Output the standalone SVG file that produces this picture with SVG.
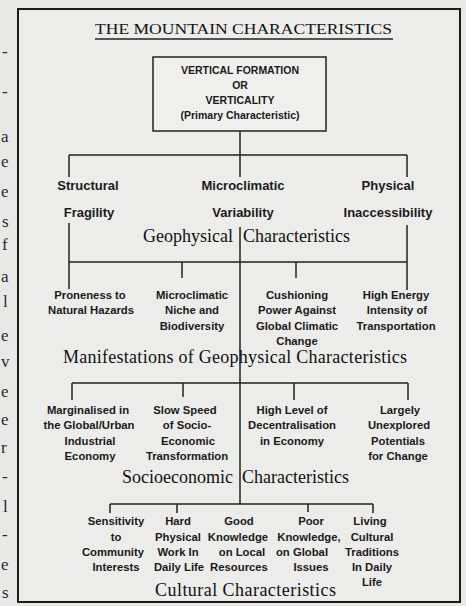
<svg xmlns="http://www.w3.org/2000/svg" width="466" height="606" viewBox="0 0 466 606">
<style>
.bg{fill:#e8e8e6}
.frame{fill:#ececea;stroke:#1c1c1c;stroke-width:2}
.ln{stroke:#222;stroke-width:1.5;fill:none}
.s{font-family:"Liberation Sans",Arial,sans-serif;font-weight:bold;font-size:11.3px;fill:#1a1a1a;text-anchor:middle}
.s1{font-family:"Liberation Sans",Arial,sans-serif;font-weight:bold;font-size:13px;fill:#1a1a1a;text-anchor:middle}
.bx{font-family:"Liberation Sans",Arial,sans-serif;font-weight:bold;font-size:10.5px;fill:#1a1a1a;text-anchor:middle}
.h{font-family:"Liberation Serif","Times New Roman",serif;font-size:18px;fill:#111}
.m{font-family:"Liberation Serif","Times New Roman",serif;font-size:17px;fill:#2a2a2a;text-anchor:start}
</style>
<rect class="bg" x="0" y="0" width="466" height="606"/>
<g id="margin">
<text class="m" x="2" y="57">-</text>
<text class="m" x="2" y="97">-</text>
<text class="m" x="1" y="142">a</text>
<text class="m" x="1" y="167">e</text>
<text class="m" x="1" y="197">e</text>
<text class="m" x="2" y="227">s</text>
<text class="m" x="2" y="250">f</text>
<text class="m" x="1" y="282">a</text>
<text class="m" x="3" y="307">l</text>
<text class="m" x="1" y="341">e</text>
<text class="m" x="1" y="367">v</text>
<text class="m" x="1" y="397">e</text>
<text class="m" x="1" y="425">e</text>
<text class="m" x="1" y="453">r</text>
<text class="m" x="2" y="482">-</text>
<text class="m" x="3" y="512">l</text>
<text class="m" x="2" y="540">-</text>
<text class="m" x="1" y="570">e</text>
<text class="m" x="2" y="598">s</text>
</g>
<rect class="frame" x="18" y="9" width="442" height="593"/>
<g id="title">
<text x="243.5" y="34" font-family="'Liberation Serif','Times New Roman',serif" font-size="15" fill="#111" text-anchor="middle" textLength="297" lengthAdjust="spacingAndGlyphs">THE MOUNTAIN CHARACTERISTICS</text>
<line class="ln" x1="95" y1="39" x2="393" y2="39"/>
</g>
<g id="connectors">
<line class="ln" x1="240" y1="131" x2="240" y2="155"/>
<line class="ln" x1="69" y1="155" x2="407" y2="155"/>
<line class="ln" x1="69" y1="155" x2="69" y2="177"/>
<line class="ln" x1="240" y1="155" x2="240" y2="177"/>
<line class="ln" x1="407" y1="155" x2="407" y2="177"/>
<line class="ln" x1="69" y1="223" x2="69" y2="289"/>
<line class="ln" x1="407" y1="225" x2="407" y2="290"/>
<line class="ln" x1="69" y1="262" x2="407" y2="262"/>
<line class="ln" x1="182" y1="262" x2="182" y2="278"/>
<line class="ln" x1="296" y1="262" x2="296" y2="278"/>
<line class="ln" x1="240" y1="227" x2="240" y2="504"/>
<line class="ln" x1="72" y1="383" x2="408" y2="383"/>
<line class="ln" x1="72" y1="383" x2="72" y2="400"/>
<line class="ln" x1="183" y1="383" x2="183" y2="397"/>
<line class="ln" x1="294" y1="383" x2="294" y2="400"/>
<line class="ln" x1="408" y1="383" x2="408" y2="400"/>
<line class="ln" x1="110" y1="504" x2="373" y2="504"/>
<line class="ln" x1="110" y1="504" x2="110" y2="513"/>
<line class="ln" x1="177" y1="504" x2="177" y2="513"/>
<line class="ln" x1="308" y1="504" x2="308" y2="512"/>
<line class="ln" x1="373" y1="504" x2="373" y2="513"/>
</g>
<g id="primary">
<rect x="153" y="57" width="173" height="74" fill="#efefed" stroke="#222" stroke-width="1.5"/>
<text class="bx" x="240" y="74">VERTICAL FORMATION</text>
<text class="bx" x="240" y="89">OR</text>
<text class="bx" x="240" y="104">VERTICALITY</text>
<text class="bx" x="240" y="119">(Primary Characteristic)</text>
</g>
<g id="structural"><text class="s1" x="88" y="190">Structural</text><text class="s1" x="89" y="217">Fragility</text></g>
<g id="microclimatic"><text class="s1" x="243" y="190">Microclimatic</text><text class="s1" x="243" y="217">Variability</text></g>
<g id="physical"><text class="s1" x="388" y="190">Physical</text><text class="s1" x="388" y="217">Inaccessibility</text></g>
<g id="geo-label"><text class="h" x="233" y="242" text-anchor="end">Geophysical</text><text class="h" x="243" y="242">Characteristics</text></g>
<g id="proneness"><text class="s" x="90" y="299">Proneness to</text><text class="s" x="91" y="314">Natural  Hazards</text></g>
<g id="niche"><text class="s" x="192" y="299">Microclimatic</text><text class="s" x="192" y="314">Niche and</text><text class="s" x="192" y="330">Biodiversity</text></g>
<g id="cushioning"><text class="s" x="297" y="299">Cushioning</text><text class="s" x="297" y="314">Power Against</text><text class="s" x="297" y="330">Global Climatic</text><text class="s" x="297" y="345">Change</text></g>
<g id="energy"><text class="s" x="396" y="299">High Energy</text><text class="s" x="397" y="314">Intensity of</text><text class="s" x="396" y="330">Transportation</text></g>
<g id="manif-label"><text class="h" x="63" y="363" textLength="344" lengthAdjust="spacing">Manifestations  of Geophysical Characteristics</text></g>
<g id="marginalised"><text class="s" x="88" y="414">Marginalised in</text><text class="s" x="89" y="429">the Global/Urban</text><text class="s" x="90" y="445">Industrial</text><text class="s" x="90" y="460">Economy</text></g>
<g id="slow"><text class="s" x="185" y="414">Slow Speed</text><text class="s" x="187" y="429">of  Socio-</text><text class="s" x="188" y="445">Economic</text><text class="s" x="187" y="460">Transformation</text></g>
<g id="decentral"><text class="s" x="292" y="414">High Level  of</text><text class="s" x="292" y="429">Decentralisation</text><text class="s" x="292" y="445">in  Economy</text></g>
<g id="unexplored"><text class="s" x="400" y="414">Largely</text><text class="s" x="399" y="429">Unexplored</text><text class="s" x="398" y="445">Potentials</text><text class="s" x="398" y="460">for Change</text></g>
<g id="socio-label"><text class="h" x="233" y="483" text-anchor="end">Socioeconomic</text><text class="h" x="242" y="483">Characteristics</text></g>
<g id="sensitivity"><text class="s" x="116" y="525">Sensitivity</text><text class="s" x="116" y="541">to</text><text class="s" x="113" y="556">Community</text><text class="s" x="116" y="571">Interests</text></g>
<g id="hard"><text class="s" x="178" y="525">Hard</text><text class="s" x="178" y="541">Physical</text><text class="s" x="178" y="556">Work In</text><text class="s" x="179" y="571">Daily Life</text></g>
<g id="good"><text class="s" x="239" y="525">Good</text><text class="s" x="238" y="541">Knowledge</text><text class="s" x="242" y="556">on Local</text><text class="s" x="239" y="571">Resources</text></g>
<g id="poor"><text class="s" x="311" y="525">Poor</text><text class="s" x="309" y="541">Knowledge,</text><text class="s" x="302" y="556">on Global</text><text class="s" x="311" y="571">Issues</text></g>
<g id="living"><text class="s" x="370" y="525">Living</text><text class="s" x="372" y="541">Cultural</text><text class="s" x="372" y="556">Traditions</text><text class="s" x="372" y="571">In Daily</text><text class="s" x="372" y="586">Life</text></g>
<g id="cultural-label"><text class="h" x="155" y="596" textLength="181" lengthAdjust="spacing">Cultural  Characteristics</text></g>
</svg>
